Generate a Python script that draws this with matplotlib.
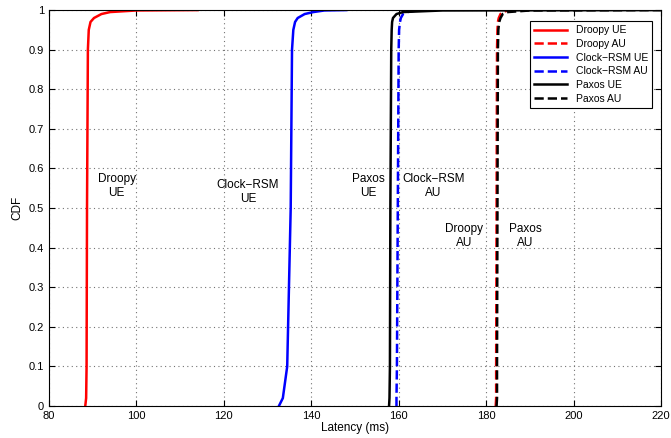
import numpy as np
import matplotlib.pyplot as plt

plt.rcParams['font.family'] = ['Liberation Sans', 'DejaVu Sans']

# CDF levels and latency quantiles (ms)
cdf = [0.0, 0.02, 0.1, 0.5, 0.9, 0.95, 0.97, 0.98, 0.99, 0.995, 0.999, 1.0]
droopy_ue = [88.3, 88.5, 88.6, 88.7, 88.9, 89.1, 89.5, 90.3, 92.0, 94.0, 100.0, 114.0]
droopy_au = [182.2, 182.3, 182.3, 182.4, 182.5, 182.6, 182.7, 182.9, 183.3, 183.8, 185.0, 186.0]
clock_ue = [132.6, 133.5, 134.5, 135.3, 135.6, 135.9, 136.3, 136.9, 138.5, 140.5, 143.0, 148.0]
clock_au = [159.5, 159.5, 159.6, 159.8, 160.0, 160.1, 160.3, 160.5, 161.0, 162.0, 164.0, 166.0]
paxos_ue = [157.8, 157.9, 158.0, 158.1, 158.3, 158.4, 158.5, 158.7, 159.5, 161.0, 170.0, 220.0]
paxos_au = [182.4, 182.5, 182.5, 182.6, 182.7, 182.8, 183.0, 183.3, 183.8, 185.0, 190.0, 220.0]

series = [
    ("Droopy UE", droopy_ue, "r", "-"),
    ("Droopy AU", droopy_au, "r", "--"),
    ("Clock\u2212RSM UE", clock_ue, "b", "-"),
    ("Clock\u2212RSM AU", clock_au, "b", "--"),
    ("Paxos UE", paxos_ue, "k", "-"),
    ("Paxos AU", paxos_au, "k", "--"),
]

labels = ["Droopy\nUE", "Clock\u2212RSM\nUE", "Paxos\nUE", "Clock\u2212RSM\nAU", "Droopy\nAU", "Paxos\nAU"]
label_x = [95.5, 125.5, 153.0, 168.0, 175.0, 189.0]
label_y = [0.555, 0.54, 0.555, 0.555, 0.43, 0.43]

fig = plt.figure(figsize=(6.71, 4.38), dpi=100)
ax = fig.add_axes([0.073, 0.073, 0.912, 0.904])

for name, lat, col, ls in series:
    ax.plot(lat, cdf, color=col, linestyle=ls, linewidth=1.8, label=name)

for t, x, y in zip(labels, label_x, label_y):
    ax.text(x, y, t, ha="center", va="center", fontsize=8.5)

ax.set_xlim(80, 220)
ax.set_ylim(0, 1)
ax.set_xticks(np.arange(80, 221, 20))
ax.set_yticks(np.arange(0, 1.01, 0.1))
ax.set_yticklabels(["0", "0.1", "0.2", "0.3", "0.4", "0.5", "0.6", "0.7", "0.8", "0.9", "1"])
ax.grid(True, linestyle=(0, (1, 3)), color="0.45", linewidth=0.8)
ax.tick_params(direction="in", labelsize=8, length=4, top=True, right=True)
ax.set_xlabel("Latency (ms)", fontsize=8.5, labelpad=1)
ax.set_ylabel("CDF", fontsize=8.5, labelpad=4)

leg = ax.legend(loc="upper right", fontsize=7.5, fancybox=False, framealpha=1,
                edgecolor="k", bbox_to_anchor=(0.994, 0.985), handlelength=3.2,
                borderpad=0.4, labelspacing=0.35)
leg.get_frame().set_linewidth(0.8)

fig.savefig("out.png", dpi=100)
